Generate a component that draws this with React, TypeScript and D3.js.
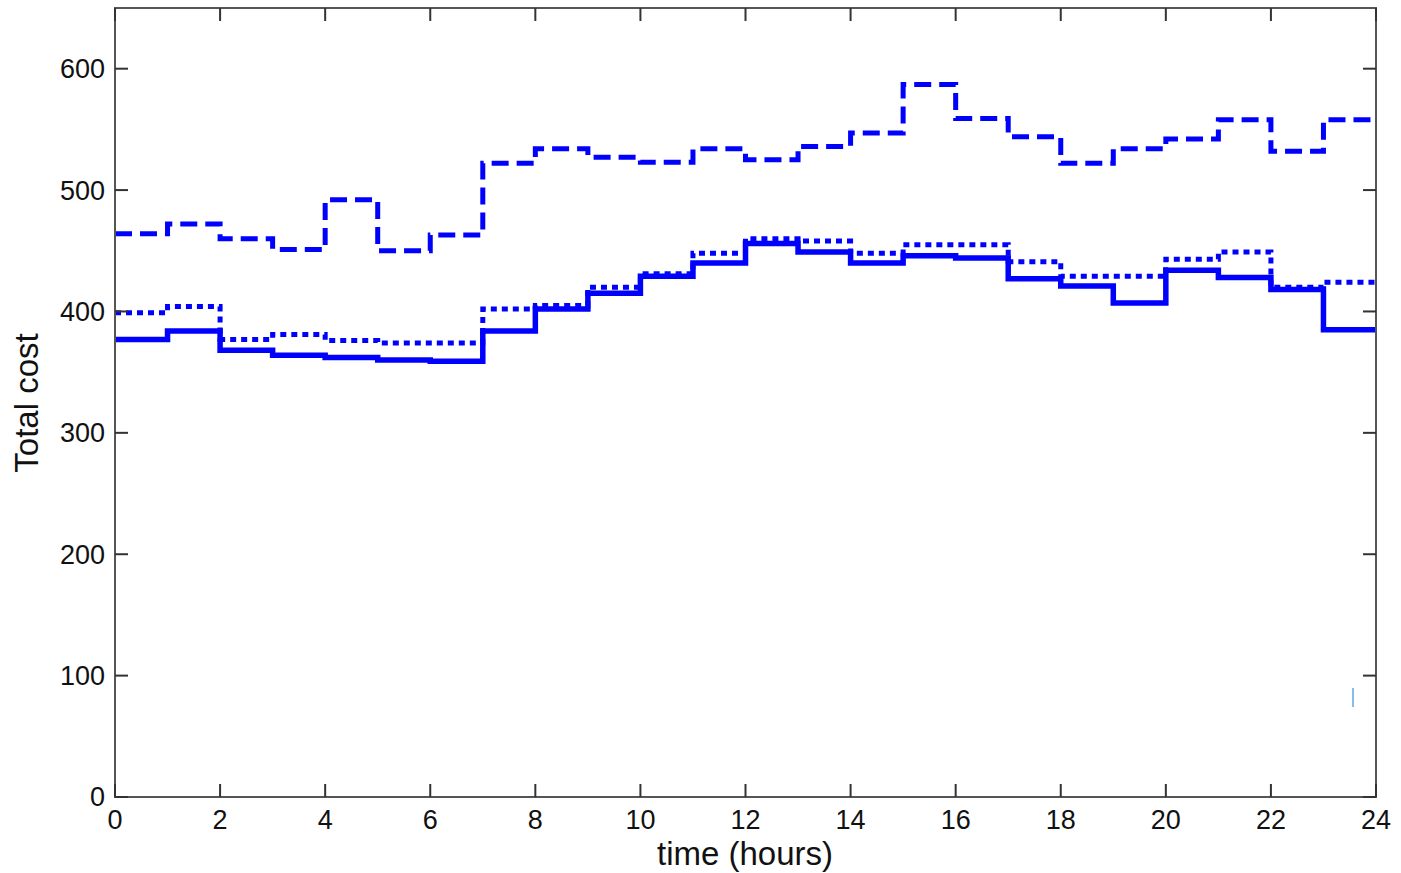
import React from "react";
import * as d3 from "d3";

const hours = d3.range(0, 24);
const dashedCost = [464, 472, 460, 451, 492, 450, 463, 522, 534, 527, 523, 534, 525, 536, 547, 587, 559, 544, 522, 534, 542, 558, 532, 558];
const dottedCost = [399, 404, 377, 381, 376, 374, 374, 402, 405, 420, 431, 448, 460, 458, 448, 455, 455, 441, 429, 429, 443, 449, 420, 424];
const solidCost = [377, 384, 368, 364, 362, 360, 359, 384, 402, 415, 429, 440, 456, 449, 440, 446, 444, 427, 421, 407, 434, 428, 418, 385];
const xTicks = d3.range(0, 25, 2);
const yTicks = [0, 100, 200, 300, 400, 500, 600];

const W = 1401, H = 873;
const left = 115, right = 1376, top = 8, bottom = 797;

export default function App() {
  const x = d3.scaleLinear().domain([0, 24]).range([left, right]);
  const y = d3.scaleLinear().domain([0, 650]).range([bottom, top]);
  const line = d3.line<[number, number]>().x(d => x(d[0])).y(d => y(d[1])).curve(d3.curveStepAfter);
  const pts = (vals: number[]) => {
    const p: [number, number][] = hours.map((h, i) => [h, vals[i]]);
    p.push([24, vals[vals.length - 1]]);
    return p;
  };
  const font = "'Liberation Sans', Arial, sans-serif";
  const blue = "#0000ff";
  const tickLen = 13;
  return (
    <div style={{ position: "absolute", left: 0, top: 0 }}>
      <svg width={W} height={H} style={{ display: "block", background: "#fff" }}>
        <path d={line(pts(solidCost)) || ""} fill="none" stroke={blue} strokeWidth={5.5} />
        <path d={line(pts(dottedCost)) || ""} fill="none" stroke={blue} strokeWidth={5} strokeDasharray="6,5" />
        <path d={line(pts(dashedCost)) || ""} fill="none" stroke={blue} strokeWidth={5} strokeDasharray="17,8" />
        <rect x={left} y={top} width={right - left} height={bottom - top} fill="none" stroke="#555" strokeWidth={2} />
        {xTicks.map(t => (
          <g key={"x" + t}>
            <line x1={x(t)} x2={x(t)} y1={bottom} y2={bottom - tickLen} stroke="#333" strokeWidth={2} />
            <line x1={x(t)} x2={x(t)} y1={top} y2={top + tickLen} stroke="#333" strokeWidth={2} />
            <text x={x(t)} y={829} textAnchor="middle" fontFamily={font} fontSize={27} fill="#111">{t}</text>
          </g>
        ))}
        {yTicks.map(t => (
          <g key={"y" + t}>
            <line x1={left} x2={left + tickLen} y1={y(t)} y2={y(t)} stroke="#333" strokeWidth={2} />
            <line x1={right} x2={right - tickLen} y1={y(t)} y2={y(t)} stroke="#333" strokeWidth={2} />
            <text x={105} y={y(t)} dy="0.35em" textAnchor="end" fontFamily={font} fontSize={27} fill="#111">{t}</text>
          </g>
        ))}
        <text x={745} y={865} textAnchor="middle" fontFamily={font} fontSize={33} fill="#111">time (hours)</text>
        <text transform={`translate(38, 403) rotate(-90)`} textAnchor="middle" fontFamily={font} fontSize={33} fill="#111">Total cost</text>
        <line x1={1353} x2={1353} y1={688} y2={707} stroke="#5aa8e8" strokeWidth={1.5} />
      </svg>
    </div>
  );
}
